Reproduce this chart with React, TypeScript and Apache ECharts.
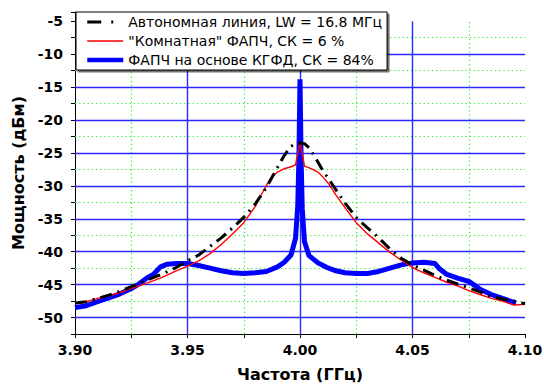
import React, { useEffect, useRef } from "react";
import * as echarts from "echarts";

const seriesNames = [
  "Автономная линия, LW = 16.8 МГц",
  "\"Комнатная\" ФАПЧ, СК = 6 %",
  "ФАПЧ на основе КГФД, СК = 84%",
];

const blackFreq = [
  3.9, 3.905, 3.91, 3.915, 3.92, 3.925, 3.93, 3.935, 3.94, 3.945, 3.95, 3.955, 3.96, 3.965, 3.97,
  3.975, 3.98, 3.985, 3.99, 3.993, 3.996, 3.998, 4.0, 4.002, 4.004, 4.007, 4.01, 4.015, 4.02, 4.025,
  4.03, 4.035, 4.04, 4.045, 4.05, 4.055, 4.06, 4.065, 4.07, 4.075, 4.08, 4.085, 4.09, 4.095, 4.1,
];
const blackPower = [
  -47.8, -47.6, -47.1, -46.6, -46.0, -45.3, -44.6, -43.9, -43.2, -42.4, -41.4, -40.5, -39.2, -37.9, -36.4,
  -34.8, -32.8, -30.3, -27.2, -25.4, -24.0, -23.6, -23.5, -23.6, -24.2, -25.8, -27.6, -30.1, -32.6, -34.8,
  -36.4, -37.9, -39.6, -41.0, -42.0, -42.8, -43.6, -44.3, -44.9, -45.5, -46.1, -46.8, -47.2, -47.5, -47.9,
];

const redFreq = [
  3.9, 3.905, 3.91, 3.915, 3.92, 3.925, 3.93, 3.935, 3.94, 3.945, 3.95, 3.955, 3.96, 3.965, 3.97,
  3.975, 3.98, 3.984, 3.987, 3.99, 3.993, 3.996, 3.998, 3.9988, 4.0, 4.0012, 4.002, 4.005, 4.008, 4.01,
  4.013, 4.016, 4.02, 4.025, 4.03, 4.035, 4.04, 4.045, 4.05, 4.055, 4.06, 4.065, 4.07, 4.075, 4.08,
  4.085, 4.09, 4.095, 4.1,
];
const redPower = [
  -47.9, -47.6, -47.1, -46.7, -46.2, -45.6, -45.0, -44.4, -43.7, -42.9, -42.2, -41.4, -40.3, -38.9, -37.3,
  -35.6, -33.2, -30.6, -28.8, -27.9, -27.4, -27.1, -26.8, -25.5, -23.3, -25.5, -27.0, -27.4, -27.9, -28.6,
  -29.8, -31.4, -33.3, -35.6, -37.3, -38.7, -40.1, -41.3, -42.4, -43.2, -43.9, -44.6, -45.2, -45.9, -46.5,
  -47.1, -47.5, -48.1, -48.0,
];

const blueFreq = [
  3.9, 3.905, 3.91, 3.915, 3.92, 3.925, 3.928, 3.932, 3.935, 3.938, 3.941, 3.945, 3.95, 3.955, 3.96,
  3.965, 3.97, 3.975, 3.98, 3.985, 3.99, 3.993, 3.996, 3.998, 3.999, 3.9995, 4.0, 4.0005, 4.001, 4.002,
  4.004, 4.008, 4.012, 4.016, 4.02, 4.025, 4.03, 4.035, 4.04, 4.045, 4.05, 4.055, 4.06, 4.062, 4.065,
  4.07, 4.075, 4.078, 4.08, 4.085, 4.09, 4.096,
];
const bluePower = [
  -48.5, -48.2, -47.6, -47.0, -46.4, -45.6, -45.0, -44.0, -43.4, -42.3, -41.9, -41.8, -41.8, -42.1, -42.5,
  -42.9, -43.2, -43.3, -43.2, -43.0, -42.3, -41.6, -40.5, -38.0, -33.0, -26.0, -13.8, -26.0, -33.5, -38.5,
  -40.6, -41.7, -42.4, -42.9, -43.2, -43.3, -43.3, -43.0, -42.5, -42.0, -41.7, -41.6, -41.8, -42.6, -43.4,
  -44.0, -44.5, -45.2, -45.7, -46.5, -47.1, -47.8,
];

const majorFreqLines = [3.95, 4.0, 4.05];
const minorFreqLines = [3.925, 3.975, 4.025, 4.075];
const majorPowerLines = [-10, -15, -20, -25, -30, -35, -40, -45, -50];
const minorPowerLines = [-7.5, -12.5, -17.5, -22.5, -27.5, -32.5, -37.5, -42.5, -47.5];

const X_MIN = 3.9;
const X_MAX = 4.1;
const Y_MIN = -52.5;
const Y_MAX = -3.6;
const GRID_TOP_VALUE = -5;

const FONT = "DejaVu Sans";

function pairs(xs: number[], ys: number[]) {
  return xs.map((x, i) => [x, ys[i]]);
}

export default function App() {
  const ref = useRef<HTMLDivElement>(null);

  useEffect(() => {
    if (!ref.current) return;
    const chart = echarts.init(ref.current, undefined, { renderer: "svg" });

    const blueStyle = { color: "#2a2aff", width: 1.4, type: "solid" as const };
    const greenStyle = { color: "#22ee22", width: 1.2, type: [1.2, 3] };

    const gridLines: any[] = [];
    minorPowerLines.forEach((y) =>
      gridLines.push([{ coord: [X_MIN, y], lineStyle: greenStyle }, { coord: [X_MAX, y] }])
    );
    minorFreqLines.forEach((x) =>
      gridLines.push([{ coord: [x, Y_MIN], lineStyle: greenStyle }, { coord: [x, GRID_TOP_VALUE] }])
    );
    majorPowerLines.forEach((y) =>
      gridLines.push([{ coord: [X_MIN, y], lineStyle: blueStyle }, { coord: [X_MAX, y] }])
    );
    majorFreqLines.forEach((x) =>
      gridLines.push([{ coord: [x, Y_MIN], lineStyle: blueStyle }, { coord: [x, GRID_TOP_VALUE] }])
    );

    const isMultiple = (v: number, step: number) =>
      Math.abs(v / step - Math.round(v / step)) < 1e-6;

    const hiddenSymbol = { opacity: 0, color: "rgba(0,0,0,0)", borderWidth: 0 };

    chart.setOption({
      animation: false,
      backgroundColor: "#ffffff",
      textStyle: { fontFamily: FONT },
      grid: {
        left: 75,
        right: 19,
        top: 12,
        bottom: 52,
        containLabel: false,
        outerBoundsMode: "none",
      },
      legend: {
        orient: "vertical",
        left: 76,
        top: 12,
        align: "left",
        itemWidth: 36,
        itemHeight: 14,
        itemGap: 5,
        padding: [3, 5, 3, 9],
        backgroundColor: "#ffffff",
        borderColor: "#000000",
        borderWidth: 1,
        borderRadius: 0,
        shadowColor: "rgba(0,0,0,0.55)",
        shadowBlur: 1,
        shadowOffsetX: 2,
        shadowOffsetY: 2,
        textStyle: { fontFamily: FONT, fontSize: 14, color: "#000000" },
        data: [
          {
            name: seriesNames[0],
            itemStyle: hiddenSymbol,
            lineStyle: { width: 3, color: "#000000", type: [14, 10, 2, 10] },
          },
          {
            name: seriesNames[1],
            itemStyle: hiddenSymbol,
            lineStyle: { width: 1.5, color: "#ff0000", type: "solid" },
          },
          {
            name: seriesNames[2],
            itemStyle: hiddenSymbol,
            lineStyle: { width: 4.5, color: "#0000ff", type: "solid" },
          },
        ],
      },
      xAxis: {
        type: "value",
        min: X_MIN,
        max: X_MAX,
        interval: 0.025,
        name: "Частота (ГГц)",
        nameLocation: "middle",
        nameGap: 32,
        nameTextStyle: { fontFamily: FONT, fontSize: 16, fontWeight: "bold", color: "#000" },
        axisLine: { show: true, lineStyle: { color: "#000", width: 1 } },
        axisTick: { show: true, inside: false, length: 4, lineStyle: { color: "#000" } },
        axisLabel: {
          margin: 9,
          fontFamily: FONT,
          fontSize: 14,
          fontWeight: "bold",
          color: "#000",
          showMinLabel: true,
          showMaxLabel: true,
          formatter: (v: number) => (isMultiple(v, 0.05) ? v.toFixed(2) : ""),
        },
        splitLine: { show: false },
      },
      yAxis: {
        type: "value",
        min: Y_MIN,
        max: Y_MAX,
        interval: 2.5,
        name: "Мощность (дБм)",
        nameLocation: "middle",
        nameGap: 47,
        nameTextStyle: { fontFamily: FONT, fontSize: 16, fontWeight: "bold", color: "#000" },
        axisLine: { show: true, lineStyle: { color: "#000", width: 1 } },
        axisTick: { show: true, inside: false, length: 4, lineStyle: { color: "#000" } },
        axisLabel: {
          margin: 12,
          fontFamily: FONT,
          fontSize: 14,
          fontWeight: "bold",
          color: "#000",
          formatter: (v: number) => (isMultiple(v, 5) ? String(Math.round(v)) : ""),
        },
        splitLine: { show: false },
      },
      series: [
        {
          name: seriesNames[2],
          type: "line",
          data: pairs(blueFreq, bluePower),
          symbol: "none",
          showSymbol: false,
          lineStyle: { color: "#0000ff", width: 5 },
          itemStyle: { color: "#0000ff" },
          z: 2,
          markLine: {
            silent: true,
            symbol: ["none", "none"],
            label: { show: false },
            animation: false,
            z: 1,
            data: gridLines,
          },
        },
        {
          name: seriesNames[1],
          type: "line",
          data: pairs(redFreq, redPower),
          symbol: "none",
          showSymbol: false,
          lineStyle: { color: "#ff0000", width: 1.4 },
          itemStyle: { color: "#ff0000" },
          z: 3,
        },
        {
          name: seriesNames[0],
          type: "line",
          data: pairs(blackFreq, blackPower),
          symbol: "none",
          showSymbol: false,
          lineStyle: { color: "#000000", width: 3, type: [12, 6, 2, 6] },
          itemStyle: { color: "#000000" },
          z: 4,
        },
      ],
    });

    return () => chart.dispose();
  }, []);

  return (
    <div
      ref={ref}
      style={{ position: "fixed", left: 0, top: 0, width: 544, height: 386, background: "#fff" }}
    />
  );
}
